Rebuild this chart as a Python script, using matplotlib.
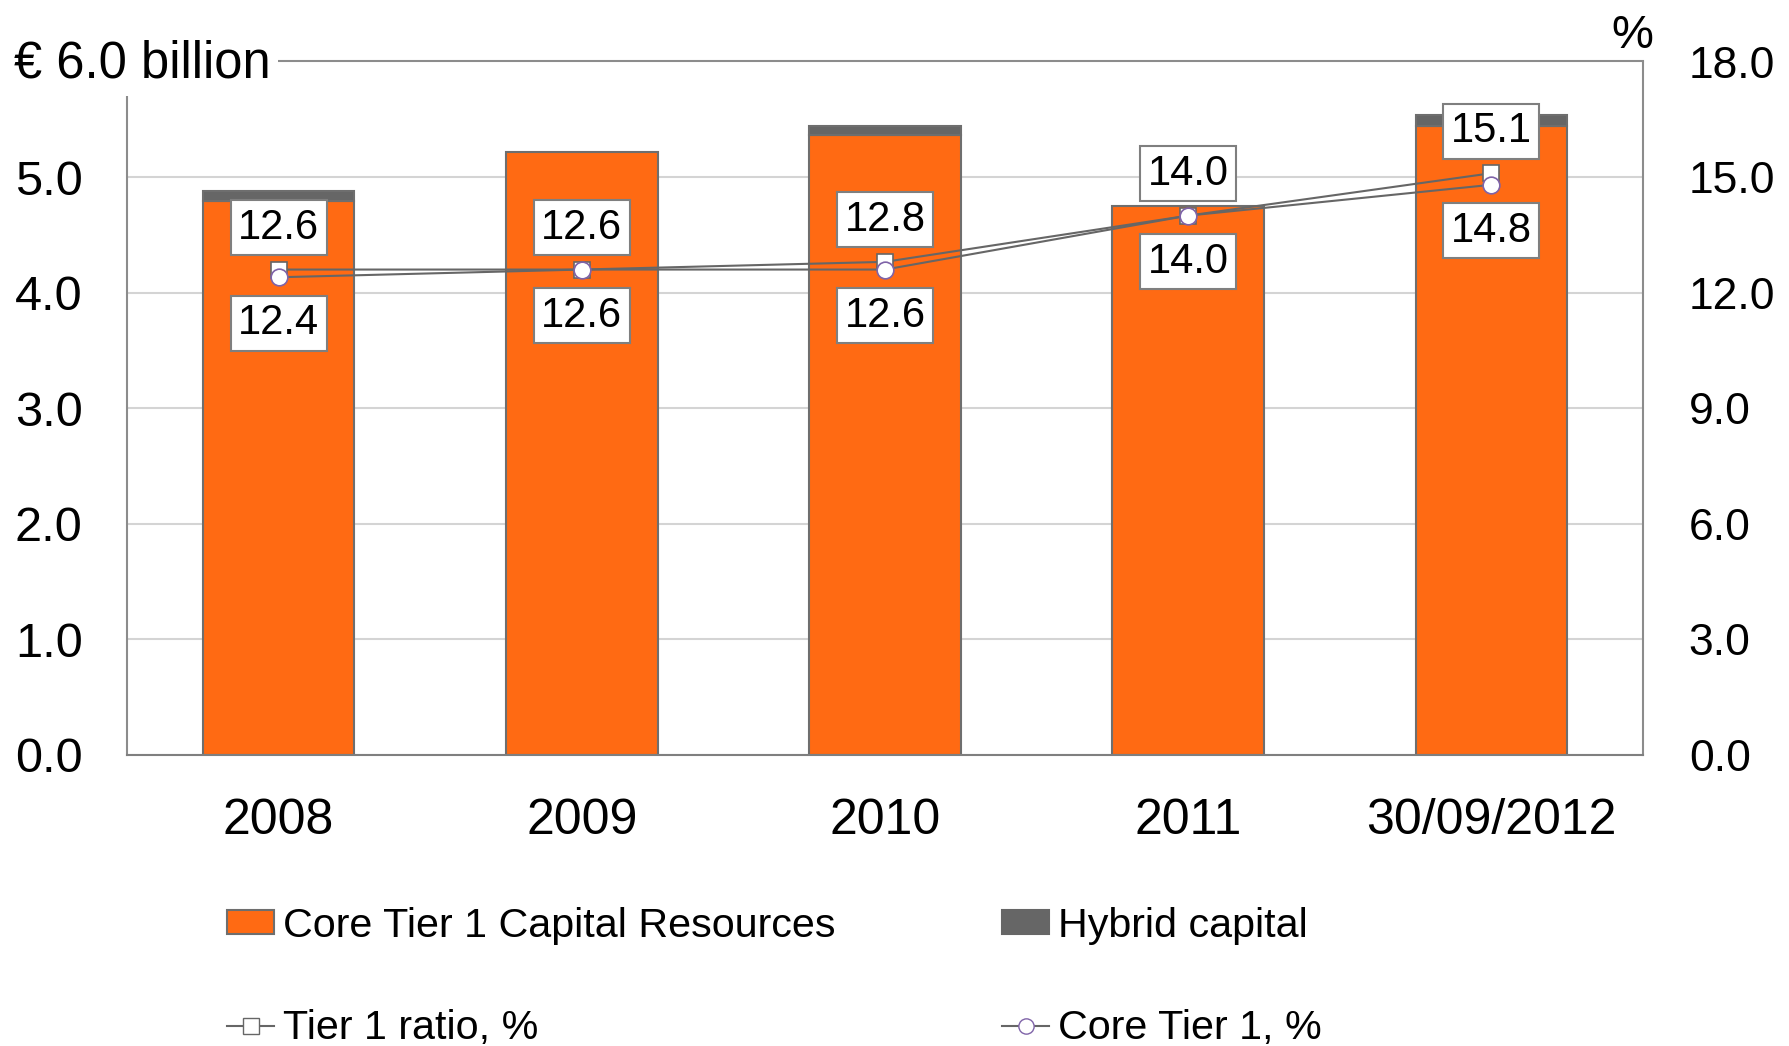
import matplotlib
matplotlib.use("Agg")
import matplotlib.pyplot as plt
from matplotlib.patches import Patch
from matplotlib.lines import Line2D
import numpy as np

plt.rcParams['font.family'] = ['Liberation Sans', 'DejaVu Sans']

# Capital data (EUR billion) and ratios (%)
categories = ["2008", "2009", "2010", "2011", "30/09/2012"]
core_capital = [4.79, 5.22, 5.36, 4.75, 5.44]
hybrid_capital = [0.09, 0.0, 0.08, 0.0, 0.10]
tier1_ratio = [12.6, 12.6, 12.8, 14.0, 15.1]
core_tier1 = [12.4, 12.6, 12.6, 14.0, 14.8]

left_ticks = [0, 1, 2, 3, 4, 5]
right_ticks = [0, 3, 6, 9, 12, 15, 18]

ORANGE = "#FF6A13"
HYBRID = "#666666"
EDGE = "#6E6E6E"
LINE = "#666666"
PURPLE = "#7F63A8"
SPINE = "#8C8C8C"
GRID = "#D4D4D4"

W, H = 1789, 1046
fig = plt.figure(figsize=(W / 100, H / 100), dpi=100)
ax = fig.add_axes([127 / W, (H - 755) / H, (1643 - 127) / W, (755 - 61.5) / H])
ax2 = ax.twinx()

x = np.arange(len(categories))
ax.bar(x, core_capital, width=0.5, color=ORANGE, edgecolor=EDGE,
       linewidth=1.5, zorder=2)
hyb_idx = [i for i, v in enumerate(hybrid_capital) if v > 0]
ax.bar([x[i] for i in hyb_idx], [hybrid_capital[i] for i in hyb_idx],
       bottom=[core_capital[i] for i in hyb_idx], width=0.5, color=HYBRID,
       edgecolor=EDGE, linewidth=1.5, zorder=2)

ax.set_xlim(-0.5, len(categories) - 0.5)
ax.set_ylim(0, 6)
ax.set_yticks(left_ticks)
ax.set_yticklabels([f"{v:.1f}" for v in left_ticks])
ax.set_xticks(x)
ax.set_xticklabels(categories)
ax.tick_params(axis='y', length=0, pad=32, labelsize=35)
ax.tick_params(axis='x', length=0, pad=31, labelsize=36)
ax.set_axisbelow(True)
ax.yaxis.grid(True, color=GRID, linewidth=1.5)
for name, sp in ax.spines.items():
    sp.set_color(SPINE)
    sp.set_linewidth(1.5)
ax.spines['bottom'].set_color("#7F7F7F")

ax2.set_ylim(0, 18)
ax2.set_yticks(right_ticks)
ax2.set_yticklabels([f"{v:.1f}" for v in right_ticks])
ax2.tick_params(axis='y', length=0, pad=33, labelsize=32)
for sp in ax2.spines.values():
    sp.set_visible(False)

ax2.plot(x, tier1_ratio, color=LINE, linewidth=1.5, marker='s', markersize=12,
         markerfacecolor='white', markeredgecolor=LINE, markeredgewidth=1.2,
         zorder=3)
ax2.plot(x, core_tier1, color=LINE, linewidth=1.5, marker='o', markersize=12,
         markerfacecolor='white', markeredgecolor=PURPLE, markeredgewidth=1.2,
         zorder=4)

box = dict(boxstyle='square,pad=0.18', facecolor='white', edgecolor='#7F7F7F',
           linewidth=1.5)
for xi, v in zip(x, tier1_ratio):
    ax2.annotate(f"{v:.1f}", (xi, v), xytext=(0, 42), textcoords='offset pixels',
                 ha='center', va='center', fontsize=30, bbox=box, zorder=6,
                 annotation_clip=False)
for xi, v in zip(x, core_tier1):
    ax2.annotate(f"{v:.1f}", (xi, v), xytext=(0, -46), textcoords='offset pixels',
                 ha='center', va='center', fontsize=30, bbox=box, zorder=6,
                 annotation_clip=False)

# Axis captions
fig.text(14 / W, 1 - 64 / H, "€ 6.0 billion", fontsize=36.5, ha='left',
         va='center', zorder=10,
         bbox=dict(boxstyle='square,pad=0.15', facecolor='white',
                   edgecolor='none'))
fig.text(1632 / W, 1 - 36 / H, "%", fontsize=34, ha='center', va='center')

# Legend entries
entries = [
    (Patch(facecolor=ORANGE, edgecolor=EDGE, linewidth=1.5),
     "Core Tier 1 Capital Resources", 227, 926),
    (Patch(facecolor=HYBRID, edgecolor=HYBRID, linewidth=1.5),
     "Hybrid capital", 1002, 926),
    (Line2D([], [], color=LINE, linewidth=1.5, marker='s', markersize=11,
            markerfacecolor='white', markeredgecolor=LINE),
     "Tier 1 ratio, %", 227, 1028),
    (Line2D([], [], color=LINE, linewidth=1.5, marker='o', markersize=11,
            markerfacecolor='white', markeredgecolor=PURPLE),
     "Core Tier 1, %", 1002, 1028),
]
for handle, label, px, py in entries:
    leg = fig.legend([handle], [label], loc='center left',
                     bbox_to_anchor=(px / W, 1 - py / H), frameon=False,
                     fontsize=29.7, borderpad=0, borderaxespad=0,
                     handlelength=1.15, handleheight=0.51, handletextpad=0.2)

fig.savefig("out.png", dpi=100)
